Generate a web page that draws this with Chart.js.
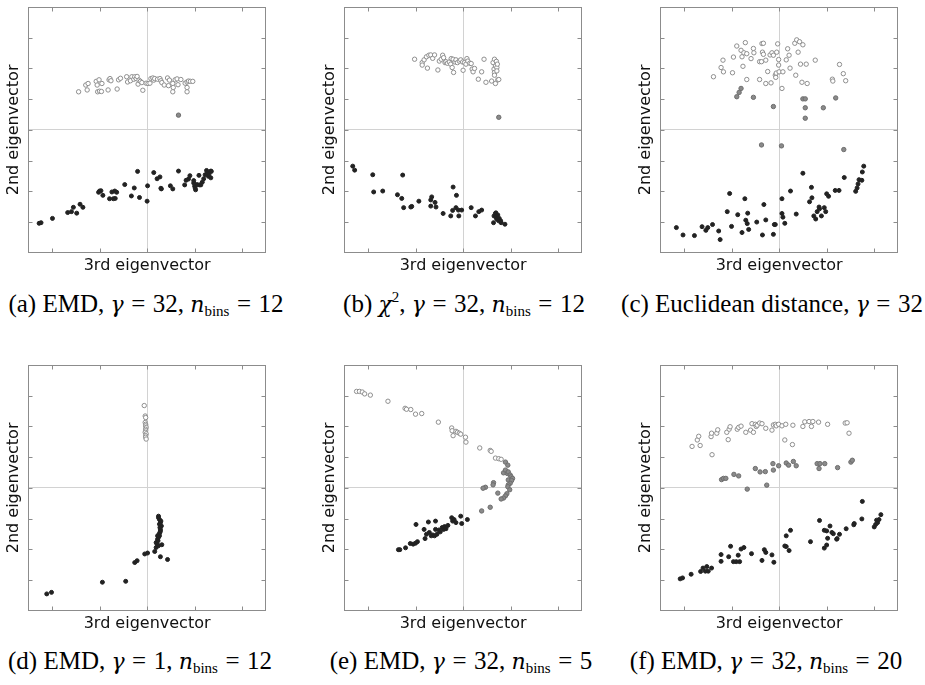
<!DOCTYPE html>
<html>
<head>
<meta charset="utf-8">
<script src="https://cdn.jsdelivr.net/npm/chart.js@4.4.0/dist/chart.umd.min.js"></script>
<style>
  body { margin: 0; background: #fff; }
  #page { position: relative; width: 925px; height: 685px; overflow: hidden; }
  canvas { position: absolute; }
  .cap { position: absolute; transform: translateX(-50%); font-family: "Liberation Serif", "Times New Roman", serif; font-size: 25px; line-height: 30px; white-space: nowrap; color: #000; }
  .cap i { font-family: "DejaVu Serif", "Liberation Serif", serif; font-style: italic; font-size: 22px; line-height: 0; }
  .cap .eq { margin: 0 0.3em; }
  .cap sub { font-size: 15px; vertical-align: -4px; line-height: 0; }
  .cap sup { font-size: 15px; vertical-align: 10px; line-height: 0; }
</style>
</head>
<body>
<div id="page">
  <canvas id="pa" width="267" height="273" style="left:4px;top:2px"></canvas>
  <canvas id="pb" width="267" height="273" style="left:320px;top:2px"></canvas>
  <canvas id="pc" width="267" height="273" style="left:636px;top:2px"></canvas>
  <canvas id="pd" width="267" height="273" style="left:4px;top:360px"></canvas>
  <canvas id="pe" width="267" height="273" style="left:320px;top:360px"></canvas>
  <canvas id="pf" width="267" height="273" style="left:636px;top:360px"></canvas>

  <div class="cap" style="left:146px;top:289px">(a) EMD, <i>γ</i><span class="eq">=</span>32, <i>n</i><sub>bins</sub><span class="eq">=</span>12</div>
  <div class="cap" style="left:464px;top:289px">(b) <i>χ</i><sup>2</sup>, <i>γ</i><span class="eq">=</span>32, <i>n</i><sub>bins</sub><span class="eq">=</span>12</div>
  <div class="cap" style="left:772px;top:289px">(c) Euclidean distance, <i>γ</i><span class="eq">=</span>32</div>
  <div class="cap" style="left:140px;top:646px">(d) EMD, <i>γ</i><span class="eq">=</span>1, <i>n</i><sub>bins</sub><span class="eq">=</span>12</div>
  <div class="cap" style="left:461px;top:646px">(e) EMD, <i>γ</i><span class="eq">=</span>32, <i>n</i><sub>bins</sub><span class="eq">=</span>5</div>
  <div class="cap" style="left:766px;top:646px">(f) EMD, <i>γ</i><span class="eq">=</span>32, <i>n</i><sub>bins</sub><span class="eq">=</span>20</div>
</div>
<script>
// axis setup shared by all six panels
const xTicks = [-2, -1, 0, 1, 2];
const yTicks = [-3, -2, -1, 0, 1, 2, 3];
const xTitle = '3rd eigenvector';
const yTitle = '2nd eigenvector';

// (a) EMD, gamma 32, 12 bins
const aOpen = [[-1.44,1.24],[-1.29,1.46],[-1.24,1.51],[-1.26,1.30],[-1.07,1.58],[-1.01,1.63],[-1.05,1.46],[-0.95,1.51],
  [-1.04,1.24],[-1.00,1.26],[-0.96,1.25],[-0.82,1.30],[-0.80,1.63],[-0.78,1.67],[-0.76,1.60],[-0.63,1.33],[-0.60,1.63],
  [-0.56,1.68],[-0.43,1.73],[-0.41,1.56],[-0.35,1.60],[-0.32,1.73],[-0.28,1.65],[-0.26,1.73],[-0.23,1.67],[-0.21,1.74],
  [-0.19,1.49],[-0.17,1.62],[-0.14,1.58],[-0.11,1.54],[-0.09,1.29],[-0.02,1.52],[0.02,1.51],[0.06,1.52],[0.08,1.67],
  [0.12,1.69],[0.14,1.62],[0.16,1.67],[0.22,1.65],[0.27,1.67],[0.29,1.60],[0.31,1.54],[0.36,1.46],[0.43,1.69],[0.45,1.44],
  [0.47,1.62],[0.54,1.51],[0.55,1.38],[0.54,1.24],[0.59,1.63],[0.63,1.66],[0.65,1.47],[0.71,1.64],[0.80,1.52],[0.84,1.56],
  [0.84,1.38],[0.84,1.24],[0.87,1.59],[0.91,1.58],[0.96,1.58]];
const aMid = [[0.66,0.48]];
const aDark = [[-2.27,-3.04],[-2.23,-3.02],[-1.99,-2.88],[-1.67,-2.69],[-1.59,-2.66],[-1.55,-2.52],[-1.48,-2.71],[-1.41,-2.42],
  [-1.35,-2.52],[-1.02,-2.03],[-1.00,-1.99],[-0.97,-1.98],[-0.93,-2.13],[-0.79,-2.24],[-0.74,-2.02],[-0.71,-2.24],[-0.67,-2.23],
  [-0.68,-1.99],[-0.64,-2.03],[-0.47,-1.78],[-0.33,-2.15],[-0.27,-1.89],[-0.20,-1.35],[-0.16,-2.20],[0.00,-2.32],[0.01,-1.82],
  [0.14,-1.39],[0.21,-1.59],[0.27,-1.53],[0.29,-1.90],[0.30,-1.92],[0.49,-1.82],[0.54,-1.92],[0.66,-1.34],[0.79,-1.79],
  [0.82,-1.64],[0.87,-1.60],[0.90,-1.49],[0.98,-1.73],[0.98,-1.65],[1.00,-1.83],[1.01,-1.89],[1.02,-1.95],[1.05,-1.78],
  [1.09,-1.48],[1.10,-1.79],[1.13,-1.79],[1.16,-1.70],[1.19,-1.59],[1.22,-1.46],[1.25,-1.32],[1.27,-1.39],[1.29,-1.51],
  [1.30,-1.46],[1.34,-1.34],[1.34,-1.56],[1.35,-1.35]];

// (b) chi-square, gamma 32, 12 bins
const bOpen = [[-1.02,2.30],[-0.86,2.19],[-0.86,2.11],[-0.82,2.28],[-0.77,2.38],[-0.75,2.01],[-0.72,2.43],[-0.68,2.44],
  [-0.64,2.33],[-0.60,2.44],[-0.53,1.95],[-0.50,2.24],[-0.46,2.30],[-0.43,2.43],[-0.41,2.35],[-0.38,2.19],[-0.36,2.22],
  [-0.33,2.17],[-0.29,2.21],[-0.26,2.14],[-0.25,2.32],[-0.23,2.03],[-0.21,2.30],[-0.20,1.87],[-0.17,2.21],[-0.15,2.28],
  [-0.12,2.19],[-0.08,2.24],[-0.05,2.28],[-0.01,2.21],[0.00,1.94],[0.03,2.19],[0.06,2.14],[0.08,2.32],[0.10,2.24],
  [0.14,2.17],[0.17,2.16],[0.19,1.98],[0.21,1.89],[0.24,2.00],[0.32,1.65],[0.39,1.89],[0.44,2.30],[0.48,1.55],[0.60,1.59],
  [0.63,2.19],[0.66,2.30],[0.65,1.98],[0.66,1.87],[0.66,1.78],[0.68,1.51],[0.68,2.08],[0.70,2.23],[0.71,2.03],[0.71,1.92],
  [0.72,2.14],[0.73,1.63],[0.75,1.64]];
const bMid = [[0.75,0.41]];
const bDark = [[-2.32,-1.18],[-2.28,-1.31],[-1.90,-1.46],[-1.88,-2.02],[-1.69,-1.99],[-1.38,-2.11],[-1.29,-2.23],[-1.27,-1.47],
  [-1.25,-2.53],[-1.10,-2.51],[-1.08,-2.49],[-0.93,-2.32],[-0.68,-2.28],[-0.66,-2.18],[-0.68,-2.48],[-0.59,-2.36],[-0.57,-2.51],
  [-0.42,-2.72],[-0.26,-2.80],[-0.22,-2.62],[-0.21,-1.86],[-0.15,-2.53],[-0.14,-2.13],[-0.10,-2.61],[-0.09,-2.80],[-0.03,-2.61],
  [0.17,-2.53],[0.26,-2.80],[0.33,-2.66],[0.39,-2.61],[0.64,-3.02],[0.65,-2.80],[0.68,-2.72],[0.70,-2.86],[0.69,-2.70],
  [0.71,-2.91],[0.73,-2.77],[0.75,-2.96],[0.76,-2.88],[0.79,-2.96],[0.80,-3.02],[0.88,-3.07]];

// (c) Euclidean distance, gamma 32
const cOpen = [[-1.38,1.73],[-1.22,2.03],[-1.17,1.89],[-1.18,2.27],[-0.98,1.86],[-0.96,2.37],[-0.89,2.73],[-0.80,2.59],
  [-0.78,2.38],[-0.76,2.07],[-0.74,2.51],[-0.71,2.84],[-0.68,1.64],[-0.68,2.48],[-0.59,2.32],[-0.54,2.65],[-0.53,2.51],
  [-0.41,1.64],[-0.41,2.22],[-0.37,2.22],[-0.36,2.81],[-0.35,2.53],[-0.33,2.82],[-0.33,2.46],[-0.28,2.27],[-0.28,1.51],
  [-0.24,1.90],[-0.19,2.44],[-0.17,1.53],[-0.15,2.51],[-0.12,2.43],[-0.08,1.78],[-0.07,1.71],[-0.06,1.85],[-0.05,2.53],
  [-0.03,2.80],[-0.01,2.29],[-0.01,2.11],[0.00,1.89],[0.06,1.35],[0.08,1.89],[0.15,2.28],[0.18,2.64],[0.21,2.43],[0.23,2.01],
  [0.33,2.82],[0.35,1.78],[0.37,2.93],[0.40,2.53],[0.43,2.87],[0.45,2.14],[0.48,1.55],[0.50,2.77],[0.57,2.14],[0.59,1.51],
  [0.76,2.27],[1.12,1.65],[1.13,1.59],[1.27,2.13],[1.35,1.83],[1.40,1.60]];
const cMid = [[-0.89,1.08],[-0.84,1.22],[-0.80,1.35],[-0.54,1.06],[-0.12,0.76],[0.50,1.01],[0.55,1.01],[0.55,0.72],
  [0.55,0.38],[0.93,0.72],[1.19,1.04],[-0.37,-0.49],[0.05,-0.52],[1.36,-0.64]];
const cDark = [[-2.16,-3.18],[-2.02,-3.42],[-1.78,-3.44],[-1.62,-3.15],[-1.54,-3.27],[-1.50,-3.18],[-1.40,-3.08],[-1.27,-3.29],
  [-1.24,-3.57],[-1.09,-2.66],[-1.04,-2.07],[-1.00,-3.14],[-0.87,-2.76],[-0.78,-3.34],[-0.72,-2.24],[-0.70,-2.94],[-0.67,-3.05],
  [-0.66,-2.71],[-0.64,-3.24],[-0.47,-3.00],[-0.35,-3.42],[-0.32,-2.43],[-0.28,-2.93],[-0.12,-3.40],[-0.10,-3.08],[-0.08,-3.08],
  [0.06,-2.24],[0.06,-2.72],[0.08,-2.84],[0.12,-3.04],[0.24,-1.99],[0.36,-2.74],[0.50,-1.41],[0.64,-2.34],[0.68,-1.87],
  [0.69,-2.21],[0.73,-2.80],[0.77,-2.90],[0.80,-2.66],[0.84,-2.51],[0.85,-2.57],[0.89,-2.80],[0.95,-2.53],[0.98,-2.66],
  [1.00,-2.08],[1.04,-2.16],[1.18,-1.97],[1.26,-1.97],[1.37,-1.55],[1.61,-2.00],[1.64,-1.89],[1.66,-1.76],[1.68,-1.62],
  [1.74,-1.64],[1.75,-1.37],[1.78,-1.18]];

// (d) EMD, gamma 1, 12 bins
const dOpen = [[-0.06,2.68],[-0.04,2.34],[-0.03,2.29],[-0.04,2.13],[-0.03,2.07],[-0.03,2.02],[-0.02,1.97],[-0.03,1.91],
  [-0.03,1.86],[-0.04,1.81],[-0.02,1.76],[-0.03,1.70],[-0.03,1.65],[-0.02,1.59]];
const dMid = [];
const dDark = [[-2.11,-3.45],[-2.01,-3.40],[-0.94,-3.07],[-0.45,-3.04],[-0.26,-2.43],[-0.21,-2.37],[-0.05,-2.15],[0.01,-2.12],
  [0.16,-2.07],[0.19,-1.94],[0.21,-1.83],[0.19,-1.78],[0.24,-1.88],[0.31,-1.85],[0.24,-1.61],[0.26,-1.56],[0.27,-1.45],
  [0.28,-1.35],[0.30,-1.24],[0.28,-1.13],[0.26,-1.03],[0.24,-0.92],[0.24,-0.97],[0.23,-1.72],[0.22,-1.67],[0.28,-2.24],
  [0.43,-2.33],[0.26,-1.18],[0.28,-1.40],[0.25,-1.51],[0.22,-1.56],[0.29,-1.08],[0.27,-1.29]];

// (e) EMD, gamma 32, 5 bins
const eOpen = [[-2.24,3.14],[-2.18,3.14],[-2.12,3.12],[-2.07,3.06],[-1.95,3.02],[-1.58,2.82],[-1.22,2.59],[-1.19,2.56],
  [-1.10,2.55],[-1.00,2.40],[-0.87,2.42],[-0.52,2.14],[-0.24,1.95],[-0.23,1.86],[-0.21,1.70],[-0.15,1.84],[-0.12,1.81],
  [-0.08,1.78],[-0.05,1.75],[0.05,1.65],[0.06,1.49],[0.35,1.30],[0.57,1.22],[0.59,1.19],[0.68,0.97],[0.75,0.95],[0.80,0.93]];
const eMid = [[0.89,0.84],[0.94,0.74],[0.85,0.49],[0.89,0.58],[0.93,0.47],[0.95,0.52],[0.99,0.42],[1.01,0.36],[1.04,0.31],
  [0.95,0.26],[1.02,0.24],[0.99,0.15],[0.95,0.10],[0.94,0.04],[0.98,-0.06],[0.92,-0.19],[0.89,-0.26],[0.85,-0.33],
  [0.80,-0.36],[0.73,-0.17],[0.64,0.17],[0.63,0.10],[0.47,0.02],[0.42,-0.01],[0.57,-0.63],[0.39,-0.75]];
const eDark = [[-1.36,-2.01],[-1.33,-2.01],[-1.21,-1.95],[-1.11,-1.81],[-1.05,-1.83],[-1.00,-1.80],[-0.96,-1.75],[-0.99,-1.19],
  [-0.82,-1.35],[-0.80,-1.65],[-0.77,-1.51],[-0.73,-1.11],[-0.71,-1.45],[-0.67,-1.56],[-0.64,-1.53],[-0.58,-1.35],[-0.58,-1.08],
  [-0.60,-1.56],[-0.55,-1.51],[-0.51,-1.37],[-0.48,-1.43],[-0.44,-1.29],[-0.41,-1.35],[-0.39,-1.26],[-0.36,-1.33],[-0.32,-1.22],
  [-0.24,-0.97],[-0.22,-1.08],[-0.19,-1.03],[-0.15,-1.13],[-0.05,-0.92],[-0.03,-1.16],[0.09,-1.03]];

// (f) EMD, gamma 32, 20 bins
const fOpen = [[-1.83,1.35],[-1.72,1.56],[-1.69,1.68],[-1.66,1.38],[-1.43,1.67],[-1.42,1.78],[-1.41,1.08],[-1.31,1.78],
  [-1.29,1.89],[-1.10,1.81],[-1.07,1.57],[-1.05,1.91],[-1.03,1.99],[-0.88,1.91],[-0.85,1.97],[-0.80,2.01],[-0.70,1.81],
  [-0.60,1.88],[-0.57,2.09],[-0.54,1.81],[-0.50,2.07],[-0.48,2.00],[-0.46,2.04],[-0.41,2.11],[-0.36,2.09],[-0.28,1.94],
  [-0.15,1.88],[-0.12,2.05],[-0.08,2.07],[-0.06,2.02],[-0.01,2.07],[0.06,2.02],[0.12,1.56],[0.14,2.07],[0.28,1.41],[0.29,2.04],
  [0.50,2.00],[0.54,2.15],[0.63,2.16],[0.71,2.16],[0.68,2.00],[0.83,2.14],[1.02,2.07],[1.39,2.11],[1.43,2.12],[1.47,1.78]];
const fMid = [[-1.21,0.27],[-1.17,0.31],[-1.12,0.31],[-0.95,0.44],[-0.85,0.39],[-0.67,-0.04],[-0.50,0.63],[-0.40,0.52],
  [-0.29,0.53],[-0.26,0.09],[-0.13,0.79],[-0.12,0.58],[-0.01,0.72],[0.15,0.81],[0.20,0.74],[0.30,0.86],[0.36,0.72],
  [0.80,0.79],[0.84,0.63],[0.86,0.79],[0.96,0.79],[1.23,0.66],[1.51,0.84],[1.54,0.90]];
const fDark = [[-2.08,-2.96],[-2.03,-2.93],[-1.85,-2.81],[-1.65,-2.72],[-1.60,-2.61],[-1.55,-2.71],[-1.52,-2.56],[-1.49,-2.71],
  [-1.42,-2.61],[-1.22,-2.17],[-1.22,-2.39],[-1.06,-2.24],[-1.02,-1.90],[-0.96,-2.40],[-0.90,-2.40],[-0.86,-2.19],[-0.83,-2.40],
  [-0.80,-1.99],[-0.74,-1.94],[-0.58,-2.14],[-0.36,-2.36],[-0.31,-2.01],[-0.28,-2.10],[-0.15,-2.18],[-0.11,-2.42],[0.12,-1.89],
  [0.15,-1.56],[0.15,-1.91],[0.21,-2.04],[0.24,-1.38],[0.66,-1.75],[0.85,-1.06],[0.95,-1.38],[0.95,-1.96],[1.00,-1.40],
  [1.00,-1.86],[1.02,-1.64],[1.07,-1.24],[1.11,-1.45],[1.14,-1.49],[1.21,-1.67],[1.22,-1.65],[1.27,-1.51],[1.41,-1.33],
  [1.57,-1.20],[1.58,-1.16],[1.74,-1.01],[1.75,-0.44],[2.00,-1.27],[2.03,-1.19],[2.05,-1.05],[2.07,-1.13],[2.10,-1.03],[2.14,-0.87]];

// box + inward tick marks, like the original plots
const framePlugin = {
  id: 'frame',
  afterDraw(chart) {
    const { ctx, chartArea: a, scales: { x, y } } = chart;
    const L = Math.round(a.left) + 0.5, R = Math.round(a.right) - 0.5;
    const T = Math.round(a.top) + 0.5, B = Math.round(a.bottom) - 0.5;
    ctx.save();
    ctx.strokeStyle = '#8c8c8c';
    ctx.lineWidth = 1;
    ctx.strokeRect(L, T, R - L, B - T);
    ctx.beginPath();
    x.ticks.forEach(t => {
      const px = Math.round(x.getPixelForValue(t.value)) + 0.5;
      ctx.moveTo(px, T); ctx.lineTo(px, T + 4);
      ctx.moveTo(px, B); ctx.lineTo(px, B - 4);
    });
    y.ticks.forEach(t => {
      const py = Math.round(y.getPixelForValue(t.value)) + 0.5;
      ctx.moveTo(L, py); ctx.lineTo(L + 4, py);
      ctx.moveTo(R, py); ctx.lineTo(R - 4, py);
    });
    ctx.stroke();
    ctx.restore();
  }
};

const toXY = pts => pts.map(p => ({ x: p[0], y: p[1] }));

function axis(min, max, ticks, title, pad) {
  return {
    type: 'linear', min, max,
    afterBuildTicks: s => { s.ticks = ticks.map(v => ({ value: v })); },
    ticks: { display: false },
    border: { display: false },
    grid: {
      drawTicks: false,
      lineWidth: 1,
      color: c => (c.tick && c.tick.value === 0 ? '#d2d2d2' : 'rgba(0,0,0,0)')
    },
    title: {
      display: true, text: title, color: '#111',
      font: { family: 'DejaVu Sans', size: 16 },
      padding: pad
    }
  };
}

function makePanel(id, open, mid, dark) {
  new Chart(document.getElementById(id), {
    type: 'scatter',
    data: {
      datasets: [
        { data: toXY(open), pointRadius: 2.2, backgroundColor: '#fff', borderColor: '#8e8e8e', borderWidth: 1 },
        { data: toXY(mid), pointRadius: 2.2, backgroundColor: '#8a8a8a', borderColor: '#6e6e6e', borderWidth: 1 },
        { data: toXY(dark), pointRadius: 2, backgroundColor: '#222', borderColor: '#222', borderWidth: 1 }
      ]
    },
    options: {
      responsive: false,
      animation: false,
      events: [],
      layout: { padding: { top: 2, right: 2, left: 0, bottom: 0 } },
      plugins: { legend: { display: false }, tooltip: { enabled: false } },
      scales: {
        x: axis(-2.5, 2.5, xTicks, xTitle, { top: 3, bottom: 0 }),
        y: axis(-4, 4, yTicks, yTitle, { top: 0, bottom: 5 })
      }
    },
    plugins: [framePlugin]
  });
}

makePanel('pa', aOpen, aMid, aDark);
makePanel('pb', bOpen, bMid, bDark);
makePanel('pc', cOpen, cMid, cDark);
makePanel('pd', dOpen, dMid, dDark);
makePanel('pe', eOpen, eMid, eDark);
makePanel('pf', fOpen, fMid, fDark);
</script>
</body>
</html>
